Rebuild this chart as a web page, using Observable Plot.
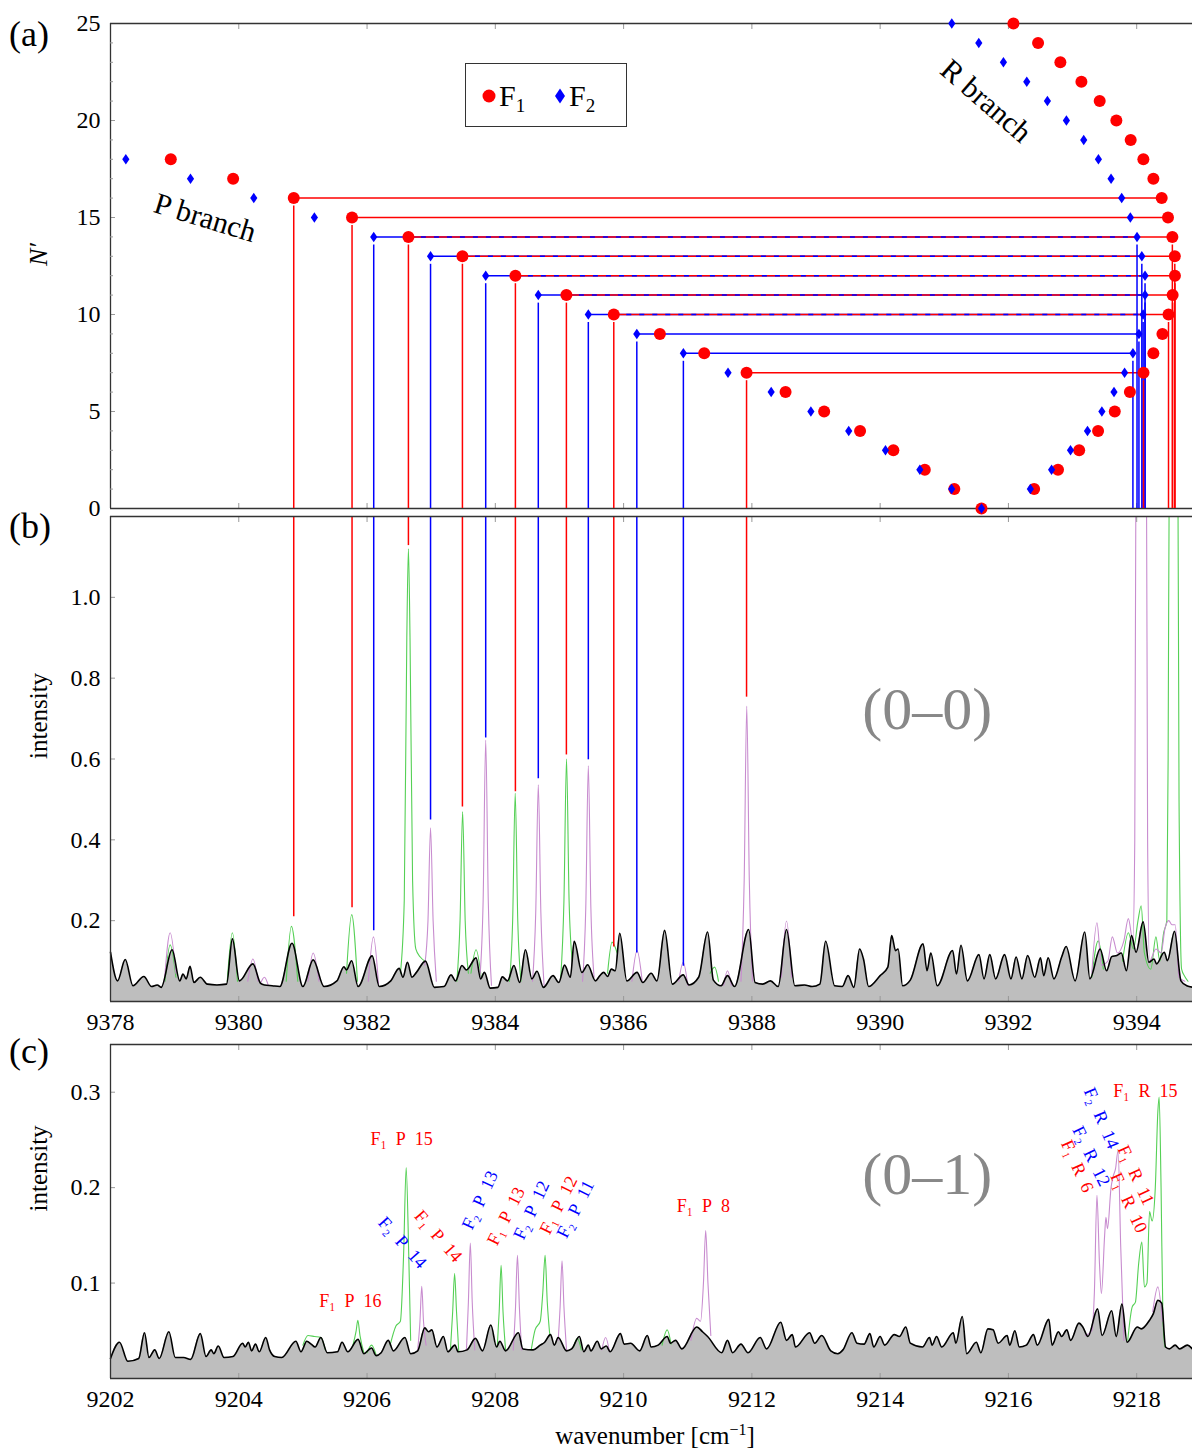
<!DOCTYPE html>
<html><head><meta charset="utf-8">
<script src="https://cdn.jsdelivr.net/npm/d3@7"></script>
<script src="https://cdn.jsdelivr.net/npm/@observablehq/plot@0.6"></script>
<style>
html,body{margin:0;padding:0;background:#fff;overflow:hidden;}
#root{position:relative;width:1192px;height:1450px;font-family:"Liberation Serif",serif;color:#000;}
#root svg, #root svg text, #root svg tspan{font-family:"Liberation Serif",serif !important;}
.plabel{position:absolute;font-size:36px;line-height:1;font-family:"Liberation Serif",serif;}
</style></head><body><div id="root"></div>
<script>
// ---------------- DATA ----------------
// Panel (a): line positions [cm^-1]; P branch index = N' (0..18), R branch index = N'-1 (N' 1..25)
const f1P = [9391.58, 9391.156, 9390.696, 9390.206, 9389.687, 9389.127, 9388.525, 9387.917, 9387.257, 9386.566, 9385.847, 9385.108, 9384.313, 9383.487, 9382.645, 9381.766, 9380.857, 9379.912, 9378.940];
const f2P = [9391.58, 9391.115, 9390.619, 9390.083, 9389.510, 9388.920, 9388.301, 9387.628, 9386.932, 9386.206, 9385.450, 9384.670, 9383.850, 9382.990, 9382.104, 9381.179, 9380.234, 9379.247, 9378.239];
const f1R = [9392.401, 9392.773, 9393.103, 9393.398, 9393.658, 9393.894, 9394.106, 9394.260, 9394.401, 9394.496, 9394.560, 9394.596, 9394.594, 9394.556, 9394.488, 9394.390, 9394.260, 9394.104, 9393.906, 9393.683, 9393.423, 9393.138, 9392.810, 9392.462, 9392.078];
const f2R = [9392.342, 9392.673, 9392.968, 9393.233, 9393.457, 9393.646, 9393.811, 9393.941, 9394.035, 9394.100, 9394.130, 9394.130, 9394.080, 9394.005, 9393.901, 9393.766, 9393.600, 9393.403, 9393.174, 9392.904, 9392.608, 9392.286, 9391.922, 9391.538, 9391.117];

// connector lines (N') and the intensity where the P-branch drop line ends in panel (b)
const f1Lines = [16, 15, 14, 13, 12, 11, 10, 7];
const f1LineEnds = [0.21, 0.232, 1.128, 0.481, 0.519, 0.61, 0.135, 0.753];
const f2Lines = [14, 13, 12, 11, 10, 9, 8];
const f2LineEnds = [0.175, 0.449, 0.652, 0.551, 0.598, 0.12, 0.087];
const f1RDrops = [14, 13, 12, 11, 10, 7];
const f2RDrops = [14, 13, 12, 11, 10, 9, 8];

// Panel (b): measured (0-0) spectrum, vertices [wavenumber, intensity]
const specB = [[9378.00,0.122],[9378.11,0.051],[9378.23,0.104],[9378.35,0.039],[9378.52,0.062],[9378.64,0.037],[9378.73,0.041],[9378.79,0.035],[9378.96,0.128],[9379.08,0.051],[9379.13,0.068],[9379.18,0.056],[9379.24,0.087],[9379.30,0.047],[9379.40,0.060],[9379.51,0.043],[9379.66,0.041],[9379.81,0.043],[9379.90,0.155],[9380.01,0.051],[9380.22,0.093],[9380.34,0.045],[9380.40,0.041],[9380.52,0.039],[9380.64,0.037],[9380.83,0.144],[9381.00,0.037],[9381.16,0.103],[9381.33,0.037],[9381.53,0.051],[9381.64,0.086],[9381.68,0.078],[9381.76,0.101],[9381.86,0.037],[9382.08,0.113],[9382.19,0.037],[9382.37,0.051],[9382.50,0.082],[9382.56,0.060],[9382.63,0.097],[9382.70,0.060],[9382.77,0.072],[9382.91,0.100],[9383.05,0.035],[9383.20,0.037],[9383.31,0.066],[9383.38,0.051],[9383.48,0.089],[9383.55,0.078],[9383.70,0.108],[9383.77,0.056],[9383.83,0.072],[9383.92,0.033],[9384.04,0.035],[9384.11,0.061],[9384.19,0.051],[9384.29,0.089],[9384.38,0.047],[9384.47,0.128],[9384.57,0.056],[9384.65,0.075],[9384.75,0.035],[9384.90,0.064],[9384.99,0.047],[9385.08,0.090],[9385.17,0.060],[9385.23,0.149],[9385.35,0.072],[9385.44,0.091],[9385.56,0.051],[9385.63,0.064],[9385.69,0.072],[9385.75,0.062],[9385.81,0.080],[9385.87,0.076],[9385.94,0.169],[9386.05,0.051],[9386.21,0.072],[9386.30,0.047],[9386.43,0.070],[9386.52,0.051],[9386.64,0.176],[9386.76,0.043],[9386.93,0.066],[9387.02,0.041],[9387.17,0.060],[9387.31,0.172],[9387.40,0.053],[9387.52,0.039],[9387.62,0.064],[9387.73,0.037],[9387.95,0.178],[9388.05,0.047],[9388.17,0.043],[9388.29,0.051],[9388.41,0.037],[9388.54,0.178],[9388.67,0.039],[9388.82,0.041],[9388.94,0.037],[9389.06,0.043],[9389.15,0.149],[9389.29,0.039],[9389.41,0.037],[9389.50,0.064],[9389.59,0.035],[9389.68,0.130],[9389.74,0.105],[9389.82,0.037],[9390.00,0.064],[9390.12,0.085],[9390.18,0.163],[9390.24,0.126],[9390.28,0.130],[9390.35,0.039],[9390.47,0.053],[9390.67,0.143],[9390.73,0.076],[9390.79,0.120],[9390.89,0.039],[9391.13,0.126],[9391.19,0.068],[9391.26,0.139],[9391.36,0.051],[9391.54,0.116],[9391.62,0.056],[9391.71,0.116],[9391.80,0.056],[9391.94,0.116],[9392.04,0.056],[9392.12,0.110],[9392.21,0.056],[9392.30,0.114],[9392.41,0.060],[9392.50,0.108],[9392.55,0.064],[9392.62,0.108],[9392.71,0.056],[9392.83,0.110],[9392.90,0.136],[9393.04,0.051],[9393.19,0.172],[9393.27,0.056],[9393.43,0.130],[9393.53,0.076],[9393.61,0.111],[9393.69,0.114],[9393.76,0.120],[9393.84,0.076],[9393.92,0.163],[9393.99,0.122],[9394.10,0.197],[9394.19,0.097],[9394.27,0.105],[9394.31,0.093],[9394.43,0.122],[9394.48,0.101],[9394.59,0.174],[9394.69,0.051],[9394.78,0.039],[9394.89,0.035]];

// Panel (b): simulated spectra where they rise above the measurement
const greenB = [
 [[9378.85,0.05],[9378.93,0.14],[9379.02,0.06]],
 [[9379.82,0.05],[9379.90,0.17],[9379.98,0.05]],
 [[9380.74,0.05],[9380.82,0.186],[9380.92,0.05]],
 [[9381.68,0.07],[9381.76,0.215],[9381.85,0.05]],
 [[9382.52,0.07],[9382.58,0.25],[9382.62,0.9],[9382.645,1.12],[9382.67,0.9],[9382.71,0.3],[9382.76,0.13],[9382.83,0.11],[9382.90,0.10]],
 [[9383.40,0.05],[9383.45,0.2],[9383.49,0.47],[9383.53,0.2],[9383.58,0.07]],
 [[9383.62,0.07],[9383.70,0.128],[9383.78,0.06]],
 [[9384.22,0.05],[9384.27,0.2],[9384.31,0.515],[9384.35,0.2],[9384.40,0.05]],
 [[9385.02,0.06],[9385.07,0.25],[9385.11,0.60],[9385.15,0.25],[9385.20,0.10]],
 [[9385.75,0.07],[9385.82,0.147],[9385.90,0.12]],
 [[9387.35,0.07],[9387.42,0.085],[9387.48,0.05]],
 [[9393.30,0.06],[9393.40,0.15],[9393.48,0.08]],
 [[9393.78,0.10],[9393.87,0.17],[9393.95,0.13],[9394.02,0.2],[9394.07,0.237],[9394.12,0.12],[9394.22,0.08],[9394.30,0.16],[9394.36,0.10],[9394.42,0.17],[9394.47,0.2],[9394.49,0.6],[9394.51,1.4],[9394.58,1.6],[9394.64,1.4],[9394.66,0.5],[9394.70,0.08],[9394.75,0.062],[9394.80,0.05]]
];
const magentaB = [
 [[9378.84,0.05],[9378.93,0.17],[9379.02,0.07]],
 [[9380.14,0.05],[9380.22,0.105],[9380.30,0.05]],
 [[9380.34,0.045],[9380.40,0.06],[9380.46,0.04]],
 [[9381.08,0.05],[9381.16,0.12],[9381.25,0.05]],
 [[9382.02,0.05],[9382.10,0.16],[9382.18,0.04]],
 [[9382.90,0.09],[9382.95,0.2],[9382.99,0.43],[9383.03,0.2],[9383.08,0.05]],
 [[9383.76,0.06],[9383.81,0.25],[9383.85,0.647],[9383.89,0.25],[9383.94,0.04]],
 [[9384.58,0.05],[9384.63,0.22],[9384.67,0.536],[9384.71,0.22],[9384.76,0.04]],
 [[9385.36,0.05],[9385.41,0.23],[9385.45,0.583],[9385.49,0.23],[9385.54,0.06]],
 [[9386.13,0.05],[9386.21,0.126],[9386.29,0.05]],
 [[9386.86,0.05],[9386.93,0.097],[9387.00,0.04]],
 [[9387.56,0.04],[9387.62,0.076],[9387.68,0.04]],
 [[9387.83,0.05],[9387.88,0.3],[9387.92,0.731],[9387.96,0.3],[9388.01,0.05]],
 [[9388.46,0.06],[9388.54,0.199],[9388.62,0.06]],
 [[9393.30,0.07],[9393.38,0.195],[9393.45,0.09],[9393.55,0.10],[9393.62,0.16],[9393.70,0.12],[9393.80,0.15],[9393.87,0.205],[9393.94,0.15],[9393.97,0.4],[9393.99,1.4],[9394.06,1.6],[9394.15,1.4],[9394.17,0.4],[9394.20,0.10],[9394.30,0.13],[9394.38,0.12],[9394.44,0.18],[9394.50,0.2],[9394.55,0.19],[9394.60,0.19],[9394.66,0.06],[9394.75,0.05]]
];

// Panel (c): measured (0-1) spectrum
const specC = [[9202.00,0.021],[9202.14,0.038],[9202.27,0.018],[9202.44,0.021],[9202.53,0.048],[9202.60,0.022],[9202.69,0.030],[9202.76,0.021],[9202.91,0.049],[9203.01,0.022],[9203.14,0.022],[9203.25,0.020],[9203.40,0.047],[9203.49,0.023],[9203.57,0.030],[9203.61,0.026],[9203.68,0.034],[9203.77,0.022],[9203.91,0.023],[9204.06,0.037],[9204.10,0.033],[9204.15,0.038],[9204.20,0.029],[9204.26,0.036],[9204.32,0.028],[9204.42,0.043],[9204.48,0.030],[9204.56,0.023],[9204.67,0.022],[9204.89,0.039],[9204.97,0.028],[9205.06,0.039],[9205.13,0.036],[9205.19,0.033],[9205.28,0.043],[9205.38,0.027],[9205.54,0.028],[9205.61,0.038],[9205.70,0.028],[9205.86,0.041],[9205.95,0.026],[9206.07,0.032],[9206.14,0.024],[9206.22,0.027],[9206.33,0.040],[9206.41,0.029],[9206.59,0.043],[9206.68,0.026],[9206.79,0.029],[9206.90,0.053],[9206.96,0.049],[9207.01,0.051],[9207.09,0.033],[9207.19,0.044],[9207.26,0.028],[9207.37,0.035],[9207.42,0.028],[9207.56,0.030],[9207.69,0.042],[9207.80,0.029],[9207.93,0.056],[9208.02,0.033],[9208.07,0.039],[9208.16,0.029],[9208.36,0.048],[9208.43,0.031],[9208.59,0.030],[9208.70,0.035],[9208.77,0.038],[9208.86,0.046],[9208.92,0.035],[9208.98,0.043],[9209.11,0.029],[9209.19,0.031],[9209.31,0.044],[9209.38,0.028],[9209.45,0.035],[9209.49,0.029],[9209.59,0.039],[9209.65,0.031],[9209.73,0.034],[9209.79,0.028],[9209.95,0.047],[9210.01,0.036],[9210.11,0.037],[9210.25,0.029],[9210.37,0.045],[9210.43,0.033],[9210.54,0.035],[9210.68,0.044],[9210.73,0.037],[9210.81,0.040],[9210.91,0.031],[9211.14,0.054],[9211.23,0.049],[9211.31,0.044],[9211.53,0.027],[9211.62,0.040],[9211.70,0.027],[9211.83,0.036],[9211.94,0.027],[9212.13,0.043],[9212.23,0.031],[9212.45,0.059],[9212.54,0.040],[9212.63,0.046],[9212.68,0.033],[9212.90,0.048],[9212.98,0.037],[9213.09,0.045],[9213.23,0.029],[9213.34,0.026],[9213.42,0.030],[9213.56,0.048],[9213.64,0.037],[9213.75,0.036],[9213.84,0.047],[9213.90,0.033],[9214.00,0.044],[9214.07,0.035],[9214.22,0.046],[9214.30,0.044],[9214.40,0.054],[9214.47,0.037],[9214.66,0.033],[9214.77,0.043],[9214.81,0.035],[9214.88,0.044],[9214.96,0.033],[9215.14,0.048],[9215.18,0.037],[9215.28,0.065],[9215.35,0.026],[9215.50,0.038],[9215.57,0.027],[9215.68,0.052],[9215.76,0.051],[9215.84,0.037],[9215.98,0.045],[9216.02,0.035],[9216.10,0.050],[9216.17,0.033],[9216.28,0.035],[9216.39,0.046],[9216.45,0.035],[9216.63,0.062],[9216.68,0.035],[9216.78,0.049],[9216.83,0.044],[9216.91,0.051],[9216.97,0.040],[9217.10,0.058],[9217.16,0.054],[9217.24,0.044],[9217.39,0.073],[9217.46,0.045],[9217.61,0.071],[9217.68,0.044],[9217.77,0.078],[9217.85,0.038],[9218.01,0.054],[9218.07,0.052],[9218.20,0.061],[9218.26,0.068],[9218.33,0.082],[9218.39,0.079],[9218.45,0.033],[9218.51,0.031],[9218.60,0.035],[9218.67,0.031],[9218.79,0.035],[9218.88,0.030]];

const greenC = [
 [[9205.00,0.035],[9205.08,0.045],[9205.18,0.044],[9205.28,0.043],[9205.35,0.030]],
 [[9205.78,0.035],[9205.83,0.050],[9205.856,0.061],[9205.89,0.045],[9205.95,0.027]],
 [[9206.00,0.027],[9206.07,0.035],[9206.14,0.025]],
 [[9206.36,0.035],[9206.45,0.055],[9206.52,0.060],[9206.57,0.13],[9206.61,0.221],[9206.65,0.13],[9206.68,0.04]],
 [[9207.30,0.030],[9207.335,0.07],[9207.365,0.11],[9207.395,0.07],[9207.43,0.028]],
 [[9208.03,0.033],[9208.06,0.07],[9208.09,0.1185],[9208.12,0.07],[9208.16,0.030]],
 [[9208.56,0.030],[9208.62,0.051],[9208.70,0.060],[9208.74,0.09],[9208.776,0.129],[9208.81,0.08],[9208.85,0.045]],
 [[9209.22,0.033],[9209.28,0.042],[9209.34,0.030]],
 [[9210.60,0.035],[9210.68,0.051],[9210.74,0.036]],
 [[9217.86,0.040],[9217.93,0.075],[9217.98,0.080],[9218.03,0.12],[9218.08,0.143],[9218.12,0.096],[9218.16,0.10],[9218.20,0.175],[9218.24,0.165],[9218.29,0.20],[9218.33,0.28],[9218.35,0.295],[9218.38,0.20],[9218.41,0.06],[9218.44,0.033]]
];
const magentaC = [
 [[9206.79,0.030],[9206.825,0.06],[9206.853,0.0965],[9206.88,0.06],[9206.92,0.035]],
 [[9207.55,0.030],[9207.58,0.08],[9207.61,0.142],[9207.64,0.08],[9207.68,0.030]],
 [[9208.28,0.030],[9208.315,0.075],[9208.345,0.129],[9208.375,0.075],[9208.41,0.030]],
 [[9208.98,0.040],[9209.01,0.075],[9209.04,0.1234],[9209.07,0.075],[9209.11,0.030]],
 [[9209.66,0.030],[9209.72,0.043],[9209.78,0.028]],
 [[9211.05,0.040],[9211.14,0.063],[9211.20,0.060],[9211.245,0.10],[9211.28,0.155],[9211.315,0.10],[9211.36,0.045]],
 [[9217.20,0.045],[9217.30,0.050],[9217.34,0.09],[9217.38,0.192],[9217.42,0.12],[9217.45,0.089],[9217.50,0.15],[9217.52,0.169],[9217.545,0.157],[9217.60,0.20],[9217.63,0.211],[9217.67,0.22],[9217.71,0.239],[9217.75,0.14],[9217.80,0.04]],
 [[9218.25,0.070],[9218.33,0.096],[9218.40,0.060]]
];

// Panel (c) line labels
const labelText = ["F₁\u2002P\u200216","F₁\u2002P\u200215","F₂\u2002P\u200214","F₁\u2002P\u200214","F₂\u2002P\u200213","F₁\u2002P\u200213","F₂\u2002P\u200212","F₁\u2002P\u200212","F₂\u2002P\u200211","F₁\u2002P\u20028","F₁\u2002R\u200215","F₂\u2002R\u200214","F₂\u2002R\u200212","F₁\u2002R\u20026","F₁\u2002R\u200211","F₁\u2002R\u200210"];
const labelComp = ["F1","F1","F2","F1","F2","F1","F2","F1","F2","F1","F1","F2","F2","F1","F1","F1"];
const labelX = [9205.741,9206.538,9206.552,9207.110,9207.760,9208.168,9208.563,9208.984,9209.249,9211.244,9218.134,9217.448,9217.292,9217.074,9217.988,9217.877];
const labelY = [0.0812,0.2505,0.1424,0.1492,0.1869,0.1702,0.1764,0.1817,0.1775,0.1806,0.3014,0.2728,0.233,0.2225,0.2131,0.1843];
const labelAngle = [0,0,48,49,-65,-63,-65,-63,-63,0,0,67,64,66,65,65];

// ticks
const ticksA = [9378,9380,9382,9384,9386,9388,9390,9392,9394];
const ticksC = [9202,9204,9206,9208,9210,9212,9214,9216,9218];
const nTicks = [0,5,10,15,20,25];
const nMinor = [1,2,3,4,6,7,8,9,11,12,13,14,16,17,18,19,21,22,23,24];
const intTicksB = [0.2,0.4,0.6,0.8,1.0];
const intTicksC = [0.1,0.2,0.3];

// ---------------- DRAWING ----------------
const RED = "#ff0000", BLUE = "#0000ff", GREEN = "#55d055", MAGENTA = "#c88ccf", GREY = "#bebebe";
const FONT = "Liberation Serif";
const root = document.getElementById("root");
const baseStyle = {fontFamily: FONT, fontSize: "24px", background: "transparent", overflow: "visible", color: "#000"};

const tallDiamond = {draw(ctx, size) { const r = Math.sqrt(size / Math.PI); ctx.moveTo(0, -1.05 * r); ctx.lineTo(0.72 * r, 0); ctx.lineTo(0, 1.05 * r); ctx.lineTo(-0.72 * r, 0); ctx.closePath(); }};

function axesMarks(xTicks, yTicks, yFmt, xLabels, xMin, yMin, yMax) {
  const m = [
    Plot.axisX(xTicks, {anchor: "top", tickSize: -5, tickFormat: () => "", stroke: "#999", label: null}),
    Plot.axisX(xTicks, {anchor: "bottom", tickSize: -5, tickFormat: () => "", stroke: "#999", label: null}),
    Plot.axisY(yTicks, {anchor: "left", tickSize: -5, tickFormat: () => "", stroke: "#999", label: null}),
    Plot.axisY(yTicks, {anchor: "left", tickSize: 0, tickPadding: 10, tickFormat: yFmt, label: null, fontFamily: FONT}),
    Plot.ruleX([xMin], {stroke: "#333", strokeWidth: 1.3}),
    Plot.ruleY([yMin], {stroke: "#333", strokeWidth: 1.3}),
    Plot.ruleY([yMax], {stroke: "#333", strokeWidth: 1.3})
  ];
  if (xLabels) m.push(Plot.axisX(xTicks, {anchor: "bottom", tickSize: 0, tickPadding: 11, tickFormat: d3.format("d"), label: null, fontFamily: FONT}));
  return m;
}
function flatten(segs) { return segs.flatMap((s, i) => s.map(([x, y]) => ({x, y, seg: i}))); }
function place(el, top) { el.style.position = "absolute"; el.style.left = "0px"; el.style.top = top + "px"; root.appendChild(el); }

// ----- panel (a)
const ptsF1 = f1P.map((w, n) => ({w, n})).concat(f1R.map((w, i) => ({w, n: i + 1})));
const ptsF2 = f2P.map((w, n) => ({w, n})).concat(f2R.map((w, i) => ({w, n: i + 1})));
const hF1 = f1Lines.map(n => ({n, x1: f1P[n], x2: f1R[n - 1]}));
const hF2 = f2Lines.map(n => ({n, x1: f2P[n], x2: f2R[n - 1]}));
const hBoth = f1Lines.filter(n => f2Lines.includes(n)).map(n => ({n, x1: f1P[n], x2: f2R[n - 1]}));

const chartA = Plot.plot({
  width: 1192, height: 520, marginTop: 23, marginBottom: 12, marginLeft: 110, marginRight: 0,
  style: baseStyle,
  x: {domain: [9378, 9394.87]}, y: {domain: [0, 25]},
  marks: [
    ...axesMarks(ticksA, nTicks, d3.format("d"), false, 9378, 0, 25),
    Plot.axisY(nMinor, {anchor: "left", tickSize: -3, tickFormat: () => "", stroke: "#999", label: null}),
    Plot.ruleY(hF2, {y: "n", x1: "x1", x2: "x2", stroke: BLUE, strokeWidth: 1.5}),
    Plot.ruleY(hF1, {y: "n", x1: "x1", x2: "x2", stroke: RED, strokeWidth: 1.5}),
    Plot.ruleY(hBoth, {y: "n", x1: "x1", x2: "x2", stroke: BLUE, strokeWidth: 1.5, strokeDasharray: "5,8"}),
    Plot.ruleX(hF2, {x: "x1", y1: 0, y2: "n", stroke: BLUE, strokeWidth: 1.5, insetBottom: -8}),
    Plot.ruleX(hF1, {x: "x1", y1: 0, y2: "n", stroke: RED, strokeWidth: 1.5, insetBottom: -8}),
    Plot.ruleX(f2RDrops, {x: n => f2R[n - 1], y1: 0, y2: n => n, stroke: BLUE, strokeWidth: 1.5, insetBottom: -8}),
    Plot.ruleX(f1RDrops, {x: n => f1R[n - 1], y1: 0, y2: n => n, stroke: RED, strokeWidth: 1.5, insetBottom: -8}),
    Plot.dot(ptsF1, {x: "w", y: "n", r: 6, fill: RED, symbol: "circle"}),
    Plot.dot(ptsF2, {x: "w", y: "n", r: 5, fill: BLUE, symbol: tallDiamond}),
    Plot.text([{x: 9379.476, y: 14.98, t: "P branch"}], {x: "x", y: "y", text: "t", rotate: 17, fontSize: 30, fontFamily: FONT}),
    Plot.text([{x: 9391.651, y: 21.0, t: "R branch"}], {x: "x", y: "y", text: "t", rotate: 41, fontSize: 30, fontFamily: FONT}),
    Plot.text(["N′"], {frameAnchor: "left", dx: -72, rotate: -90, fontSize: 26, fontStyle: "italic", fontFamily: FONT})
  ]
});
place(chartA, 0);

// ----- panel (b)
const dropsB = f1Lines.map((n, i) => ({x: f1P[n], end: f1LineEnds[i], c: RED}))
  .concat(f2Lines.map((n, i) => ({x: f2P[n], end: f2LineEnds[i], c: BLUE})));
const chartB = Plot.plot({
  width: 1192, height: 540, marginTop: 16, marginBottom: 39, marginLeft: 110, marginRight: 0,
  style: baseStyle,
  x: {domain: [9378, 9394.87]}, y: {domain: [0, 1.2]},
  marks: [
    Plot.areaY(specB, {x: d => d[0], y: d => d[1], fill: GREY, curve: "monotone-x"}),
    Plot.line(flatten(greenB), {x: "x", y: "y", z: "seg", stroke: GREEN, strokeWidth: 1.1, curve: "monotone-x", clip: true}),
    Plot.line(flatten(magentaB), {x: "x", y: "y", z: "seg", stroke: MAGENTA, strokeWidth: 1.1, curve: "monotone-x", clip: true}),
    Plot.line(specB, {x: d => d[0], y: d => d[1], stroke: "#000", strokeWidth: 1.6, curve: "monotone-x"}),
    Plot.ruleX(dropsB, {x: "x", y1: "end", y2: 1.2, stroke: "c", strokeWidth: 1.5}),
    ...axesMarks(ticksA, intTicksB, d3.format(".1f"), true, 9378, 0, 1.2),
    Plot.text([{x: 9390.736, y: 0.721, t: "(0–0)"}], {x: "x", y: "y", text: "t", fontSize: 60, fill: "#888", fontFamily: FONT}),
    Plot.text(["intensity"], {frameAnchor: "left", dx: -72, rotate: -90, fontSize: 25, fontFamily: FONT})
  ]
});
place(chartB, 500);

// ----- panel (c)
const labels = labelText.map((t, i) => ({t, comp: labelComp[i], x: labelX[i], y: labelY[i], a: labelAngle[i]}));
const chartC = Plot.plot({
  width: 1192, height: 420, marginTop: 14, marginBottom: 72, marginLeft: 110, marginRight: 0,
  style: baseStyle,
  x: {domain: [9202, 9218.87]}, y: {domain: [0, 0.35]},
  marks: [
    Plot.areaY(specC, {x: d => d[0], y: d => d[1], fill: GREY, curve: "monotone-x"}),
    Plot.line(flatten(greenC), {x: "x", y: "y", z: "seg", stroke: GREEN, strokeWidth: 1.1, curve: "monotone-x", clip: true}),
    Plot.line(flatten(magentaC), {x: "x", y: "y", z: "seg", stroke: MAGENTA, strokeWidth: 1.1, curve: "monotone-x", clip: true}),
    Plot.line(specC, {x: d => d[0], y: d => d[1], stroke: "#000", strokeWidth: 1.6, curve: "monotone-x"}),
    ...axesMarks(ticksC, intTicksC, d3.format(".1f"), true, 9202, 0, 0.35),
    Plot.text([{x: 9214.736, y: 0.213, t: "(0–1)"}], {x: "x", y: "y", text: "t", fontSize: 60, fill: "#888", fontFamily: FONT}),
    ...labels.map(l => Plot.text([l], {x: "x", y: "y", text: "t", rotate: l.a, fontSize: 18, fontFamily: FONT, fill: l.comp === "F1" ? RED : BLUE})),
    Plot.text(["intensity"], {frameAnchor: "left", dx: -72, rotate: -90, fontSize: 25, fontFamily: FONT})
  ]
});
place(chartC, 1030);

// ----- overlays: panel tags, legend, x title
for (const [t, top] of [["(a)", 16], ["(b)", 508], ["(c)", 1033]]) {
  const d = document.createElement("div"); d.className = "plabel"; d.textContent = t;
  d.style.left = "9px"; d.style.top = top + "px"; root.appendChild(d);
}
const leg = document.createElement("div");
leg.style.cssText = "position:absolute;left:465px;top:63px;width:162px;height:64px;border:1.4px solid #333;box-sizing:border-box;background:#fff;";
leg.innerHTML = `<svg width="160" height="62" style="position:absolute;left:0;top:0;font-family:'Liberation Serif',serif">
<circle cx="23" cy="32" r="6.5" fill="${RED}"/>
<text x="33" y="42" font-size="30">F<tspan font-size="19" dy="6">1</tspan></text>
<path d="M94,24.5 L99,32 L94,39.5 L89,32 Z" fill="${BLUE}"/>
<text x="103" y="42" font-size="30">F<tspan font-size="19" dy="6">2</tspan></text></svg>`;
root.appendChild(leg);
const xt = document.createElement("div");
xt.style.cssText = "position:absolute;left:455px;width:400px;top:1422px;text-align:center;font-size:25px;line-height:1;";
xt.innerHTML = "wavenumber [cm<sup style='font-size:16px'>−1</sup>]";
root.appendChild(xt);
</script></body></html>
